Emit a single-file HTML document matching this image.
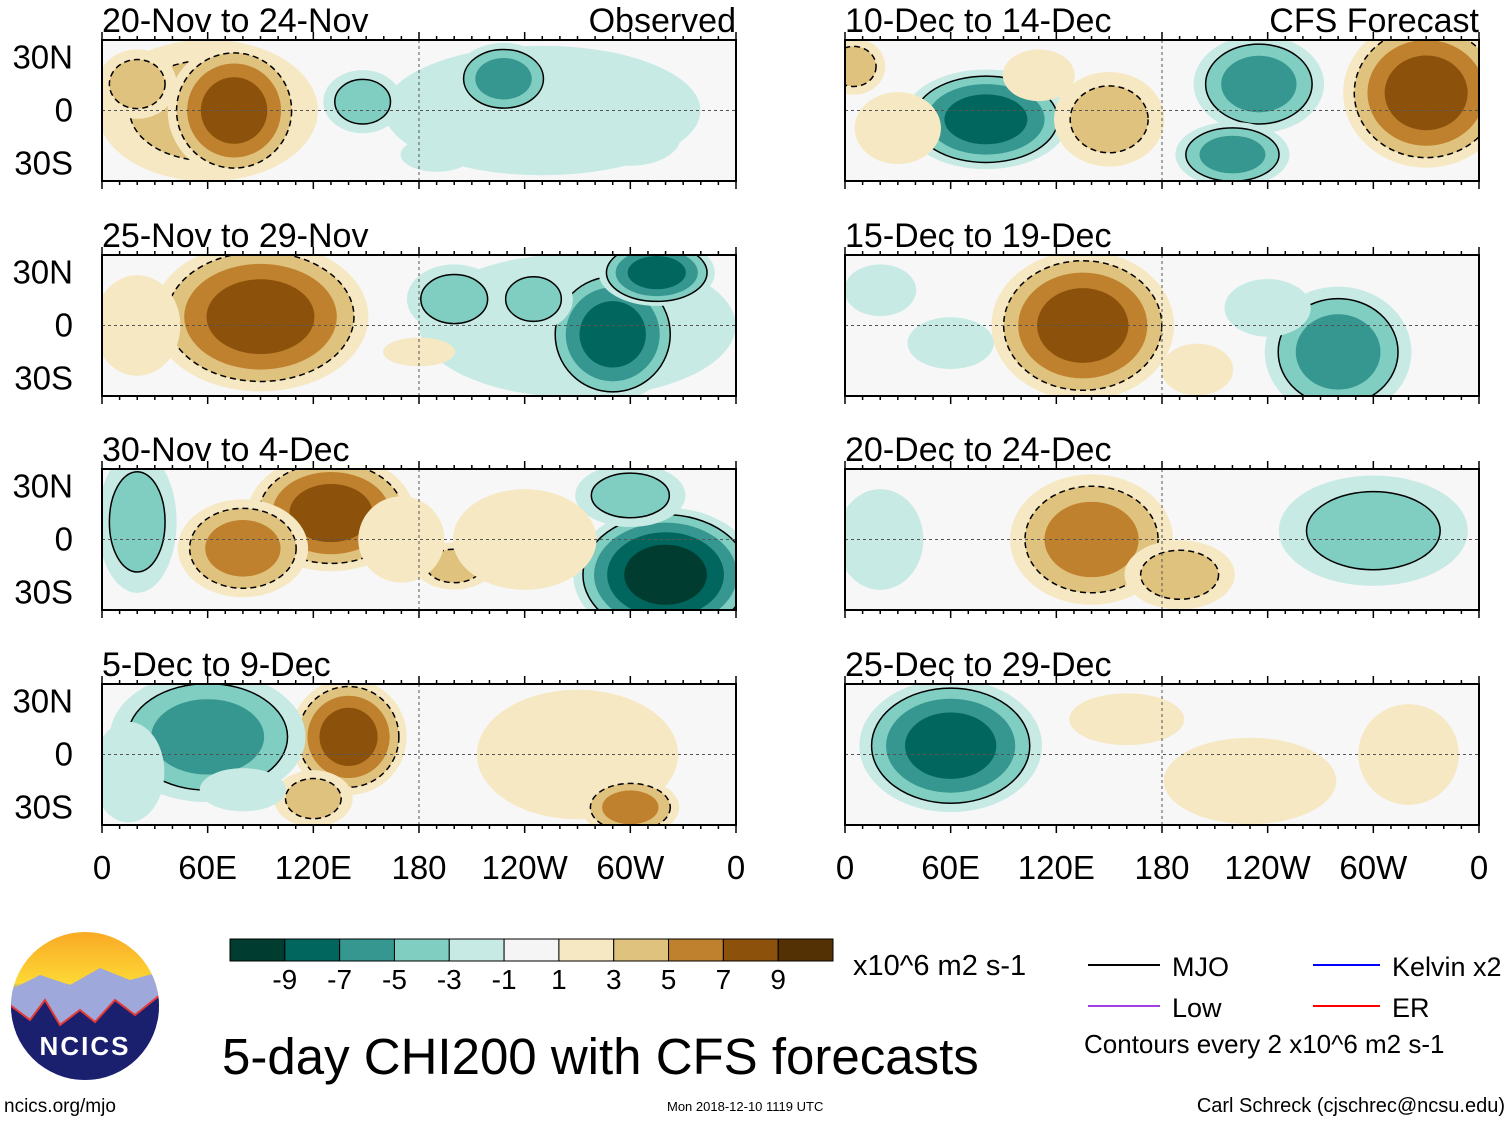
<!DOCTYPE html>
<html><head><meta charset="utf-8"><style>
body{margin:0;background:#fff}
svg{display:block;font-family:"Liberation Sans",sans-serif}
</style></head><body>
<svg id="s" width="1510" height="1121" viewBox="0 0 1510 1121">
<defs>
<linearGradient id="sky" x1="0" y1="0" x2="0" y2="1"><stop offset="0" stop-color="#f9a825"/><stop offset="0.35" stop-color="#fdd835"/><stop offset="0.4" stop-color="#7986cb"/><stop offset="1" stop-color="#5c6bc0"/></linearGradient>
<clipPath id="logoclip"><circle cx="85" cy="1006" r="74"/></clipPath>
</defs>
<g id="panels"></g>
<g id="cbar"></g>
<text x="853" y="975" font-size="29">x10^6 m2 s-1</text>
<g>
<line x1="1088" y1="965" x2="1160" y2="965" stroke="#000" stroke-width="2"/><text x="1172" y="976" font-size="27">MJO</text>
<line x1="1313" y1="965" x2="1380" y2="965" stroke="#0000ff" stroke-width="2"/><text x="1392" y="976" font-size="27">Kelvin x2</text>
<line x1="1088" y1="1006" x2="1160" y2="1006" stroke="#a040e0" stroke-width="2"/><text x="1172" y="1017" font-size="27">Low</text>
<line x1="1313" y1="1006" x2="1380" y2="1006" stroke="#ff0000" stroke-width="2"/><text x="1392" y="1017" font-size="27">ER</text>
<text x="1084" y="1053" font-size="26">Contours every 2 x10^6 m2 s-1</text>
</g>
<text x="222" y="1074" font-size="51">5-day CHI200 with CFS forecasts</text>
<text x="4" y="1112" font-size="19">ncics.org/mjo</text>
<text x="667" y="1111" font-size="13">Mon 2018-12-10 1119 UTC</text>
<text x="1505" y="1112" font-size="20" text-anchor="end">Carl Schreck (cjschrec@ncsu.edu)</text>
<g>
<g clip-path="url(#logoclip)">
<rect x="10" y="930" width="150" height="152" fill="url(#sky)"/>
<path d="M10 990 L40 975 L70 985 L100 968 L130 980 L160 972 L160 1082 L10 1082Z" fill="#9fa8da"/>
<path d="M10 1005 L30 1020 L45 1000 L60 1025 L80 1010 L95 1022 L115 1000 L135 1015 L160 995 L160 1082 L10 1082Z" fill="#1a1f6e" stroke="#e53935" stroke-width="2"/>
</g>
<text x="85" y="1055" font-size="26" font-weight="bold" fill="#fff" text-anchor="middle" letter-spacing="2">NCICS</text>
</g>
</svg>
<script>
const NS='http://www.w3.org/2000/svg';
const svg=document.getElementById('s');
function mk(t,a,p){const e=document.createElementNS(NS,t);for(const k in a)e.setAttribute(k,a[k]);(p||svg).appendChild(e);return e;}
const levels=[1,3,5,7,9];
const posColors=['#f6e8c3','#dfc27d','#bf812d','#8c510a','#543005'];
const negColors=['#c7eae5','#80cdc1','#35978f','#01665e','#003c30'];
const cbarColors=['#003c30','#01665e','#35978f','#80cdc1','#c7eae5','#f5f5f5','#f6e8c3','#dfc27d','#bf812d','#8c510a','#543005'];
const cbarLabels=['-9','-7','-5','-3','-1','1','3','5','7','9'];
const panelTitles=['20-Nov to 24-Nov','25-Nov to 29-Nov','30-Nov to 4-Dec','5-Dec to 9-Dec','10-Dec to 14-Dec','15-Dec to 19-Dec','20-Dec to 24-Dec','25-Dec to 29-Dec'];
const lonTicks=['0','60E','120E','180','120W','60W','0'];
const latTicks=['30N','0','30S'];
// blobs: [lon, lat, value, lonRadius, latRadius]
const blobs0=[[250,0,-3,110,45],[60,0,5,70,45],[75,0,9,40,40],[20,15,5,25,22],[228,18,-7,30,22],[148,5,-5,25,20],[300,-15,-3,35,20],[250,-20,-3,30,18],[190,-25,-3,25,12]];
const blobs1=[[270,0,-3,110,50],[90,5,9,65,45],[20,0,3,30,35],[200,15,-5,30,22],[290,-5,-9,40,40],[315,30,-9,35,20],[180,-15,3,25,10],[245,15,-5,25,20]];
const blobs2=[[130,15,9,50,35],[80,-5,7,40,30],[200,-15,5,25,15],[320,-20,-11,55,40],[20,10,-5,25,45],[300,25,-5,35,20],[240,0,3,50,35],[170,0,3,30,30]];
const blobs3=[[140,10,9,35,35],[60,10,-7,60,40],[270,0,3,70,45],[300,-30,7,30,18],[15,-10,-3,25,35],[120,-25,5,25,18],[80,-20,-3,30,15]];
const blobs4=[[80,-5,-9,50,30],[330,10,9,50,45],[235,15,-7,40,30],[220,-25,-7,35,20],[150,-5,5,35,30],[5,25,5,20,18],[110,20,3,25,18],[30,-10,3,30,25]];
const blobs5=[[135,0,9,55,45],[280,-15,-7,45,40],[60,-10,-3,30,18],[20,20,-3,25,18],[200,-25,3,25,18],[240,10,-3,30,20]];
const blobs6=[[140,0,7,50,40],[190,-20,5,35,22],[300,5,-5,60,35],[20,0,-3,30,35],[70,15,-1,45,25]];
const blobs7=[[60,5,-9,55,40],[230,-15,3,60,30],[160,20,3,40,18],[320,0,3,35,35],[120,-20,1,40,25]];
const allBlobs=[blobs0,blobs1,blobs2,blobs3,blobs4,blobs5,blobs6,blobs7];
const colX=[102,845], rowY=[40,255,469,684], PW=634, PH=141;
const pg=document.getElementById('panels');
allBlobs.forEach((bl,i)=>{
  const x0=colX[i<4?0:1], y0=rowY[i%4];
  const lonX=l=>x0+l/360*PW, latY=l=>y0+PH/2-l/80*PH;
  const g=mk('g',{},pg);
  
  
  const cid='cp'+i;
  const cp=mk('clipPath',{id:cid},g);mk('rect',{x:x0,y:y0,width:PW,height:PH},cp);
  const inner=mk('g',{'clip-path':'url(#'+cid+')'},g);
  mk('rect',{x:x0,y:y0,width:PW,height:PH,fill:'#f7f7f7'},inner);
  bl.forEach(b=>{
    const [lon,lat,v,rl,ra]=b, av=Math.abs(v);
    const cols=v>0?posColors:negColors;
    levels.forEach((L,k)=>{
      if(L>=av)return;
      const f=Math.sqrt(1-L/av);
      const e=mk('ellipse',{cx:lonX(lon),cy:latY(lat),rx:rl/360*PW*f,ry:ra/80*PH*f,fill:cols[k]},inner);
      
      
    });
    if(av>=5){const f=Math.sqrt(1-3/av);
      mk('ellipse',{cx:lonX(lon),cy:latY(lat),rx:rl/360*PW*f,ry:ra/80*PH*f,fill:'none',stroke:'#000','stroke-width':1.5,'stroke-dasharray':v>0?'6 4':'none'},inner);}
  });
  mk('line',{x1:x0,y1:latY(0),x2:x0+PW,y2:latY(0),stroke:'#555','stroke-dasharray':'3 3'},inner);
  mk('line',{x1:lonX(180),y1:y0,x2:lonX(180),y2:y0+PH,stroke:'#555','stroke-dasharray':'3 3'},inner);
  mk('rect',{x:x0,y:y0,width:PW,height:PH,fill:'none',stroke:'#000','stroke-width':2},g);
  for(let t=0;t<=36;t++){const x=lonX(t*10),len=t%6==0?8:4;
    mk('line',{x1:x,y1:y0,x2:x,y2:y0-len,stroke:'#000','stroke-width':1.5},g);
    mk('line',{x1:x,y1:y0+PH,x2:x,y2:y0+PH+len,stroke:'#000','stroke-width':1.5},g);}
  const tt=mk('text',{x:x0,y:y0-8,'font-size':34},g);tt.textContent=panelTitles[i];
  
  
  if(i==0||i==4){const lb=mk('text',{x:x0+PW,y:y0-8,'font-size':34,'text-anchor':'end'},g);lb.textContent=i==0?'Observed':'CFS Forecast';
    
    }
  if(i<4){[30,0,-30].forEach((la,k)=>{const t=mk('text',{x:73,y:latY(la)+11,'font-size':33,'text-anchor':'end'},g);t.textContent=latTicks[k];
    
    });}
  if(i%4==3){lonTicks.forEach((s,k)=>{const t=mk('text',{x:lonX(k*60),y:879,'font-size':33,'text-anchor':'middle'},g);t.textContent=s;
    
    });}
});
const cb=document.getElementById('cbar');const cw=(833-230)/11;
cbarColors.forEach((c,k)=>{const r=mk('rect',{x:230+k*cw,y:939,width:cw,height:22,fill:c,stroke:'#000','stroke-width':1},cb);
  
  });
cbarLabels.forEach((s,k)=>{const t=mk('text',{x:230+(k+1)*cw,y:989,'font-size':28,'text-anchor':'middle'},cb);t.textContent=s;
  
  });
</script>
</body></html>
